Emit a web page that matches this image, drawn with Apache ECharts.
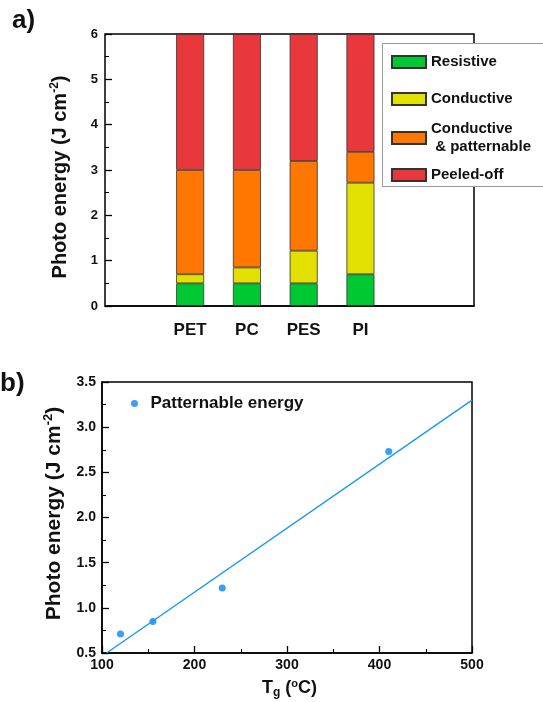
<!DOCTYPE html>
<html><head><meta charset="utf-8">
<script src="https://cdn.jsdelivr.net/npm/echarts@6/dist/echarts.min.js"></script>
<style>html,body{margin:0;padding:0;background:#fff}#c{width:543px;height:702px}</style>
</head><body><div id="c"></div>
<script>
// ---- data ----
const categories = ['PET', 'PC', 'PES', 'PI'];
const resistiveTop = [0.5, 0.5, 0.5, 0.7];
const conductiveTop = [0.7, 0.85, 1.22, 2.72];
const patternableTop = [3.0, 3.0, 3.2, 3.4];
const peeledTop = [6, 6, 6, 6];
const seriesNames = ['Resistive', 'Conductive', 'Conductive\n & patternable', 'Peeled-off'];
const tg = [120, 155, 230, 410];
const patternableEnergy = [0.71, 0.85, 1.22, 2.73];
const fitX = [105, 500];
const fitY = [0.5, 3.3];
const yTicksA = [0, 1, 2, 3, 4, 5, 6];
const xTicksB = [100, 200, 300, 400, 500];
const yTicksB = [0.5, 1.0, 1.5, 2.0, 2.5, 3.0, 3.5];

const colors = ['#00c832', '#e2e000', '#ff7600', '#e8383c'];
const font = 'Arial, "Liberation Sans", Helvetica, sans-serif';

// category slots: bars occupy every other slot, leaving empty space on both sides
const slots = new Array(14).fill('');
categories.forEach((c, i) => { slots[3 + 2 * i] = c; });
const slotIndex = categories.map((c, i) => 3 + 2 * i);

const tops = [resistiveTop, conductiveTop, patternableTop, peeledTop];
const barSeries = tops.map((arr, k) => {
  const d = new Array(14).fill(null);
  arr.forEach((v, i) => { d[slotIndex[i]] = +(v - (k ? tops[k - 1][i] : 0)).toFixed(3); });
  return {
    name: seriesNames[k], type: 'bar', stack: 'a', xAxisIndex: 0, yAxisIndex: 0,
    barWidth: 28,
    itemStyle: { color: colors[k], borderColor: '#333', borderWidth: 0.8 },
    data: d
  };
});

const axisLine = { lineStyle: { color: '#000', width: 1.5 } };
const tick = { show: true, inside: true, length: 7, lineStyle: { color: '#000', width: 1.3 } };
const minor = { show: true, splitNumber: 2, length: 4, lineStyle: { color: '#000', width: 1.1 } };
const lbl = (sz) => ({ color: '#111', fontWeight: 'bold', fontSize: sz, fontFamily: font });
const nameRich = (sz, pad) => ({
  fontFamily: font, color: '#111', padding: pad || 0,
  rich: {
    t: { fontSize: sz, fontWeight: 'bold', fontFamily: font, color: '#111', lineHeight: sz + 3 },
    s: { fontSize: Math.round(sz * 0.6), fontWeight: 'bold', fontFamily: font, color: '#111', verticalAlign: 'top', lineHeight: sz + 3 },
    b: { fontSize: Math.round(sz * 0.65), fontWeight: 'bold', fontFamily: font, color: '#111', verticalAlign: 'bottom', lineHeight: sz + 3 }
  }
});

const legendTops = [53, 90, 120, 166];
const legends = seriesNames.map((n, k) => ({
  data: [n], left: 391, top: legendTops[k], orient: 'vertical', padding: 0, z: 20,
  icon: 'rect', itemWidth: 34, itemHeight: 12, itemGap: 0, selectedMode: false,
  textStyle: { fontWeight: 'bold', fontSize: 15, fontFamily: font, color: '#111', lineHeight: 18, padding: [0, 0, 0, 0] }
}));
legends.push({
  data: ['Patternable energy'], left: 131, top: 395, padding: 0, icon: 'circle',
  itemWidth: 22, itemHeight: 7, selectedMode: false,
  textStyle: { fontWeight: 'bold', fontSize: 17, fontFamily: font, color: '#111' }
});

const option = {
  animation: false,
  backgroundColor: '#fff',
  graphic: [
    { type: 'rect', shape: { x: 382.5, y: 43.5, width: 175, height: 143 }, style: { fill: '#fff', stroke: '#999', lineWidth: 1 }, z: 5 },
    { type: 'text', left: 12, top: 8, style: { text: 'a)', font: 'bold 26px ' + font, fill: '#111' } },
    { type: 'text', left: 0, top: 371, style: { text: 'b)', font: 'bold 26px ' + font, fill: '#111' } }
  ],
  legend: legends,
  grid: [
    { left: 105, top: 34, width: 369, height: 272, show: true, borderColor: '#000', borderWidth: 1.5, backgroundColor: 'transparent' },
    { left: 102, top: 382, width: 370, height: 271, show: true, borderColor: '#000', borderWidth: 1.5, backgroundColor: 'transparent' }
  ],
  xAxis: [
    { gridIndex: 0, type: 'category', data: slots, boundaryGap: false, axisLine, axisTick: { show: false }, splitLine: { show: false },
      axisLabel: { ...lbl(17), margin: 16, interval: 0 } },
    { gridIndex: 1, type: 'value', min: xTicksB[0], max: xTicksB[xTicksB.length - 1], interval: 100,
      axisLine, axisTick: tick, minorTick: minor, splitLine: { show: false },
      axisLabel: { ...lbl(14), margin: 5 },
      name: '{t|T}{b|g}{t| (}{s|o}{t|C)}', nameLocation: 'middle', nameGap: 25, nameTextStyle: nameRich(18, [0, 0, 0, 5]) }
  ],
  yAxis: [
    { gridIndex: 0, type: 'value', min: yTicksA[0], max: yTicksA[yTicksA.length - 1], interval: 1,
      axisLine, axisTick: tick, minorTick: minor, splitLine: { show: false },
      axisLabel: { ...lbl(13), margin: 7 },
      name: '{t|Photo energy (J cm}{s|-2}{t|)}', nameLocation: 'middle', nameGap: 33, nameTextStyle: nameRich(20, [0, 14, 0, 0]) },
    { gridIndex: 1, type: 'value', min: yTicksB[0], max: yTicksB[yTicksB.length - 1], interval: 0.5,
      axisLine, axisTick: tick, minorTick: minor, splitLine: { show: false },
      axisLabel: { ...lbl(14), margin: 6, formatter: v => v.toFixed(1) },
      name: '{t|Photo energy (J cm}{s|-2}{t|)}', nameLocation: 'middle', nameGap: 36, nameTextStyle: nameRich(21, [0, 0, 0, 8]) }
  ],
  series: [
    ...barSeries,
    { name: 'fit', type: 'line', xAxisIndex: 1, yAxisIndex: 1, showSymbol: false, silent: true,
      lineStyle: { color: '#1e9be8', width: 1.5 }, data: fitX.map((x, i) => [x, fitY[i]]) },
    { name: 'Patternable energy', type: 'scatter', xAxisIndex: 1, yAxisIndex: 1, symbolSize: 7,
      itemStyle: { color: '#0a84f0' }, data: tg.map((x, i) => [x, patternableEnergy[i]]) }
  ]
};
echarts.init(document.getElementById('c')).setOption(option);
</script></body></html>
